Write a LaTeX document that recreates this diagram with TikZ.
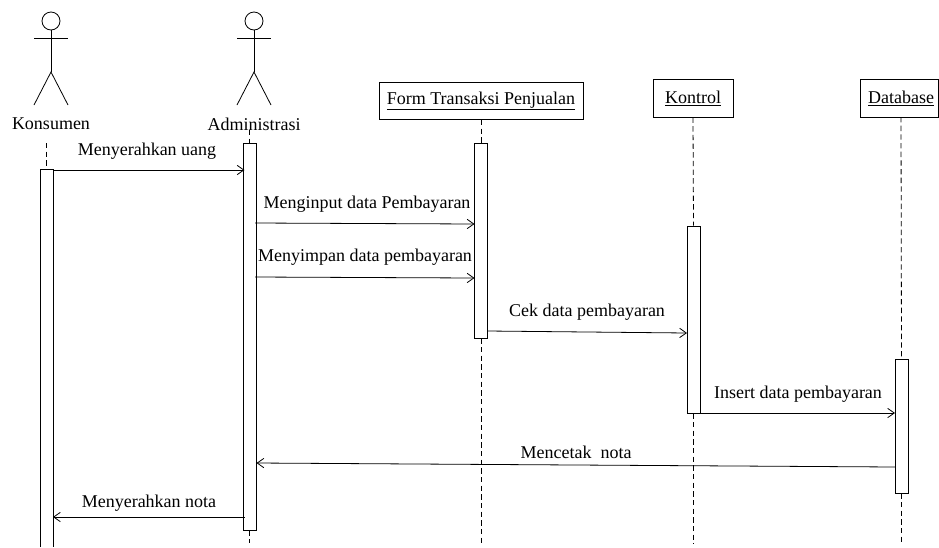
\documentclass[tikz,border=0pt]{standalone}
\usepackage{fontspec}
\setmainfont{Liberation Serif}
\usetikzlibrary{arrows.meta}

\begin{document}
\begin{tikzpicture}[x=0.75pt,y=-0.75pt,line width=0.6pt,font=\fontsize{13.5}{16}\selectfont]
            \tikzstyle{object}=[rectangle,draw=black,fill=white,minimum height=28pt,inner sep=0pt]
            \tikzstyle{activation}=[rectangle,draw=black,fill=white,minimum width=9.75pt,inner sep=0pt]
            \tikzstyle{head}=[circle,draw=black,minimum size=13.5pt,inner sep=0pt]
            \tikzstyle{caption}=[inner sep=0pt]
            \tikzstyle{lifeline}=[dashed,dash pattern=on 4pt off 2.5pt]
            \tikzstyle{message}=[-{Straight Barb[length=5pt,width=7pt]}]
            \useasboundingbox (0,0) rectangle (939,547);

            % actors
            \foreach \name/\x/\label in {K/51/Konsumen, A/254/Administrasi} {
                    \node[head] (head-\name) at (\x,21) {};
                    \node[caption] (cap-\name) at (\x,124) {\label};
                    \coordinate (body-\name) at (\x,72);
                    \draw (head-\name) -- (body-\name);
                    \draw ({\x-17},38) -- ({\x+17},38);
                    \draw ({\x-17},105) -- (body-\name) -- ({\x+17},105);
            }

            % object boxes
            \node[object,minimum width=153pt] (form) at (481,101) {\underline{Form Transaksi Penjualan}};
            \node[object,minimum width=60pt] (kontrol) at (693,98.5) {\underline{Kontrol}};
            \node[object,minimum width=58.5pt] (db) at (899,98.5) {\hspace*{3pt}\underline{Database}};

            % bottom and top ends of the lifelines
            \foreach \name/\x/\y in {K-top/46.5/143, A-top/249.75/130, A-end/249.75/543, F-end/481/544, C-end/693.5/544, D-end/901.5/544}
                    \coordinate (\name) at (\x,\y);

            % dashed parts first, the boxes go over them
            \node[activation,minimum height=387*0.75pt] (act-A) at (249.75,336.5) {};
            \node[activation,minimum height=195*0.75pt] (act-F) at (481,240.5) {};
            \node[activation,minimum height=187*0.75pt] (act-C) at (693.5,319.5) {};
            \node[activation,minimum height=134*0.75pt] (act-D) at (901.5,426) {};
            \coordinate (K-a) at (40,547);
            \coordinate (K-b) at (40,169);
            \coordinate (K-c) at (53,169);
            \coordinate (K-d) at (53,547);
            \draw (K-a) -- (K-b) -- (K-c) -- (K-d);

            \draw[lifeline] (K-top) -- (46.5,169);
            \draw[lifeline] (A-top) -- (act-A.north);
            \draw[lifeline] (act-A.south) -- (A-end);
            \draw[lifeline] (form.south) -- (act-F.north);
            \draw[lifeline] (act-F.south) -- (F-end);
            \draw[lifeline] (kontrol.south) -- (act-C.north);
            \draw[lifeline] (act-C.south) -- (C-end);
            \draw[lifeline] (901,117) -- (act-D.north);
            \draw[lifeline] (act-D.south) -- (D-end);

            % messages
            \foreach \num/\xa/\ya/\xb/\yb/\tx/\ty/\label in {
                    1/53/170/244.5/170/147/151/Menyerahkan uang,
                    2/255/223/474.5/224/367/204/Menginput data Pembayaran,
                    3/255/277/474.5/278/365/257/Menyimpan data pembayaran,
                    4/487.5/331/687/333/587/312/Cek data pembayaran,
                    5/700/413/895/413/798/394/Insert data pembayaran,
                    6/895/467/256.5/463/576/452/Mencetak\ \ nota,
                    7/244.5/517/53/517/149/503/Menyerahkan nota} {
                    \coordinate (M-\num-a) at (\xa,\ya);
                    \coordinate (M-\num-b) at (\xb,\yb);
                    \draw[message] (M-\num-a) -- (M-\num-b);
                    \node[caption] (T-\num) at (\tx,\ty) {\label};
            }
        \end{tikzpicture}
\end{document}
